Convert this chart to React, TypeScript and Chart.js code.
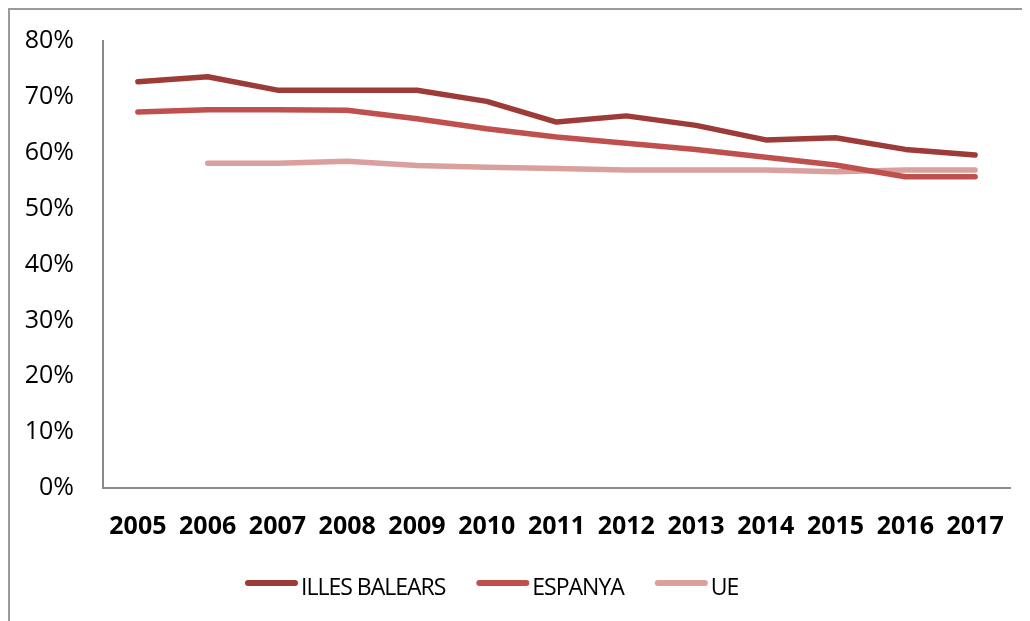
import React, { useEffect, useRef } from "react";
import { Chart, registerables } from "chart.js";

Chart.register(...registerables);

const years = ["2005", "2006", "2007", "2008", "2009", "2010", "2011", "2012", "2013", "2014", "2015", "2016", "2017"];
const illesBalears = [72.7, 73.6, 71.2, 71.2, 71.2, 69.2, 65.5, 66.6, 64.9, 62.3, 62.7, 60.6, 59.6];
const espanya = [67.3, 67.7, 67.7, 67.6, 66.1, 64.3, 62.8, 61.7, 60.6, 59.2, 57.8, 55.7, 55.7];
const ue = [null, 58.1, 58.1, 58.5, 57.7, 57.4, 57.2, 56.9, 56.9, 56.9, 56.6, 56.9, 56.9];
const seriesNames = ["ILLES BALEARS", "ESPANYA", "UE"];
const seriesColors = ["#9d3b38", "#c0504d", "#d9a09e"];
const yMin = 0;
const yMax = 80;
const yStep = 10;

const legendPlugin = {
  id: "customLegend",
  afterDraw(chart: any) {
    const ctx = chart.ctx;
    ctx.save();
    let x = 235;
    const lineY = 573;
    ctx.font = '23px "Open Sans", sans-serif';
    try {
      ctx.letterSpacing = "-1px";
    } catch (e) {}
    chart.data.datasets.forEach((ds: any) => {
      ctx.strokeStyle = ds.borderColor;
      ctx.lineWidth = 6;
      ctx.lineCap = "round";
      ctx.beginPath();
      ctx.moveTo(x + 3, lineY);
      ctx.lineTo(x + 50, lineY);
      ctx.stroke();
      x += 56;
      ctx.fillStyle = "#000";
      ctx.textBaseline = "alphabetic";
      ctx.textAlign = "left";
      ctx.fillText(ds.label, x, 585);
      x += ctx.measureText(ds.label).width + 31;
    });
    ctx.restore();
  },
};

export default function App() {
  const ref = useRef<HTMLCanvasElement>(null);
  useEffect(() => {
    const chart = new Chart(ref.current as HTMLCanvasElement, {
      type: "line",
      data: {
        labels: years,
        datasets: [illesBalears, espanya, ue].map((d, i) => ({
          label: seriesNames[i],
          data: d,
          borderColor: seriesColors[i],
          backgroundColor: seriesColors[i],
          borderWidth: 5.5,
          pointRadius: 0,
          tension: 0,
          borderCapStyle: "round",
          borderJoinStyle: "round",
          fill: false,
        })),
      },
      options: {
        animation: false,
        responsive: false,
        maintainAspectRatio: false,
        layout: { padding: { top: 31, right: 20, bottom: 73, left: 0 } },
        plugins: { legend: { display: false }, tooltip: { enabled: false } },
        scales: {
          x: {
            offset: true,
            grid: { display: false, drawTicks: false },
            border: { display: true, color: "#8a8a8a", width: 2 },
            ticks: {
              color: "#000",
              padding: 24,
              maxRotation: 0,
              autoSkip: false,
              font: { family: '"Open Sans", sans-serif', size: 25, weight: "bold" },
            },
            afterFit(scale: any) {
              scale.height = 60;
              scale.paddingLeft = 0;
              scale.paddingRight = 0;
            },
          },
          y: {
            min: yMin,
            max: yMax,
            grid: { display: false, drawTicks: false },
            border: { display: true, color: "#8a8a8a", width: 2 },
            ticks: {
              stepSize: yStep,
              color: "#000",
              padding: 29,
              font: { family: '"Open Sans", sans-serif', size: 25 },
              callback: (v: any) => v + "%",
            },
            afterFit(scale: any) {
              scale.width = 93;
              scale.paddingTop = 0;
              scale.paddingBottom = 0;
            },
          },
        },
      },
      plugins: [legendPlugin],
    });
    return () => chart.destroy();
  }, []);
  return (
    <div
      style={{
        width: 1022,
        height: 613,
        boxSizing: "border-box",
        borderLeft: "2px solid #9a9a9a",
        borderTop: "2px solid #9a9a9a",
        background: "#fff",
      }}
    >
      <canvas ref={ref} width={1020} height={611} style={{ display: "block" }} />
    </div>
  );
}
